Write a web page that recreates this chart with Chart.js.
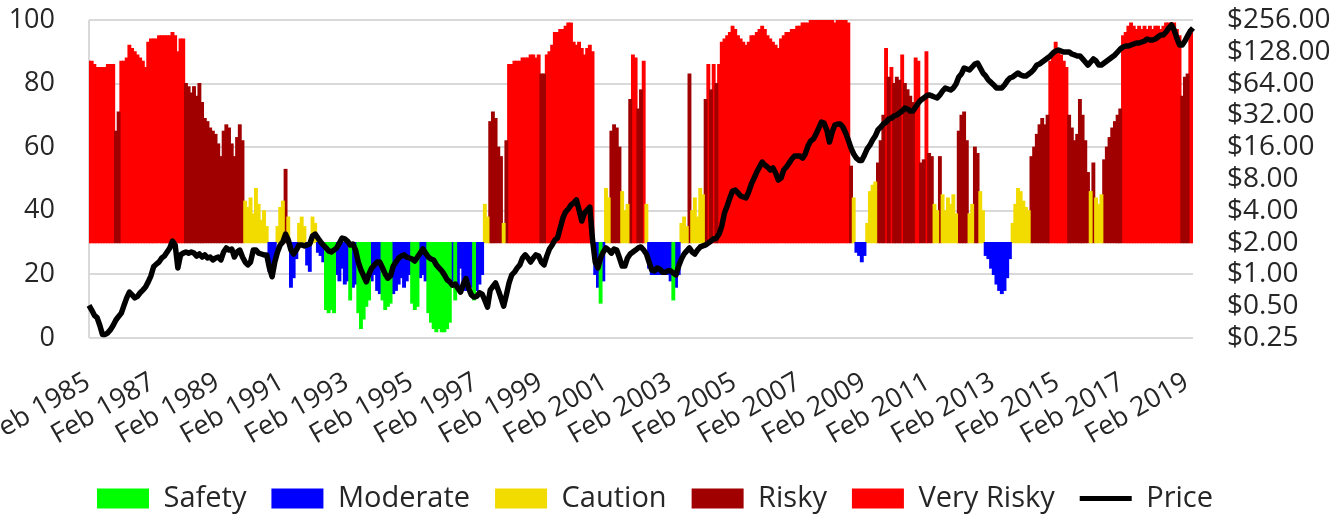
<!DOCTYPE html>
<html>
<head>
<meta charset="utf-8">
<script src="https://cdn.jsdelivr.net/npm/chart.js@4.4.1/dist/chart.umd.min.js"></script>
<style>
  html, body { margin: 0; padding: 0; background: #fff; }
  #wrap { width: 1334px; height: 519px; position: relative; }
</style>
</head>
<body>
<div id="wrap"><canvas id="chart"></canvas></div>
<script>
// monthly readings, Feb 1985 .. Apr 2019 (one row per year, Feb..Jan)
const startYear = 1985;
const startMonth = 1; // Feb

// risk indicator (0-100), bars hang from the 30 line
const riskIndex = [
  87,87,86,85,85,85,85,86,86,86,65,71,
  87,87,88,92,91,90,89,88,87,85,93,94,
  94,94,95,95,95,95,95,96,95,90,94,94,
  80,79,77,79,76,80,74,69,68,66,65,64,
  61,57,65,67,66,61,57,63,67,62,43,41,
  44,39,47,42,37,40,35,21,19,23,35,41,
  43,53,38,16,19,25,36,38,35,23,21,38,
  36,27,26,24,9,8,9,8,20,18,22,17,
  18,12,16,17,8,3,6,10,12,18,20,15,
  14,12,9,10,11,14,15,17,19,16,18,20,
  11,9,10,19,20,18,8,5,3,2,3,2,
  2,3,5,18,12,16,22,17,15,18,16,12,
  15,17,20,42,38,68,71,69,60,57,36,62,
  86,86,87,87,87,88,88,88,89,89,88,89,
  83,83,89,90,92,96,96,97,97,98,99,99,
  93,92,93,91,89,91,92,90,20,16,11,18,
  47,44,65,67,66,60,46,40,42,75,89,88,
  72,78,87,42,22,20,20,20,20,21,20,20,
  18,12,16,20,36,38,35,83,40,44,38,47,
  45,75,86,78,86,80,86,93,94,95,96,98,
  97,95,94,93,92,93,95,95,96,97,98,97,
  95,94,93,92,91,94,95,96,96,97,97,98,
  98,99,99,99,100,100,100,100,100,100,100,100,
  100,99,100,100,100,100,99,54,44,27,26,24,
  26,36,46,48,49,55,62,70,91,82,85,80,
  82,81,89,80,78,76,74,88,87,55,56,90,
  58,57,42,40,57,45,40,44,42,45,39,65,
  70,71,62,39,42,60,58,46,40,26,25,22,
  20,17,15,14,15,19,25,36,42,47,46,43,
  41,40,57,60,64,67,69,67,70,87,89,93,
  90,89,87,85,70,66,62,64,75,70,62,52,
  46,55,44,42,45,56,60,63,66,68,70,72,
  95,96,98,99,98,97,98,97,98,97,98,97,
  98,98,97,98,99,99,99,99,97,95,76,82,
  83,97,97
];

// price, right log axis
const price = [
  0.51,0.46,0.41,0.39,0.33,0.27,0.27,0.28,0.30,0.33,0.37,0.40,
  0.43,0.51,0.60,0.68,0.64,0.60,0.62,0.67,0.71,0.76,0.85,0.97,
  1.18,1.25,1.31,1.43,1.49,1.63,1.78,2.07,1.90,1.15,1.53,1.59,
  1.63,1.59,1.63,1.59,1.49,1.56,1.46,1.53,1.43,1.46,1.37,1.43,
  1.46,1.37,1.63,1.78,1.70,1.74,1.46,1.63,1.70,1.46,1.31,1.23,
  1.31,1.70,1.70,1.59,1.56,1.53,1.53,1.15,0.95,1.31,1.63,1.90,
  2.03,2.41,2.12,1.70,1.56,1.70,1.90,1.90,1.86,1.90,1.94,2.31,
  2.41,2.21,2.03,1.90,1.78,1.67,1.63,1.70,1.78,1.98,2.21,2.17,
  2.07,1.90,1.94,1.70,1.31,1.10,0.97,0.85,1.01,1.15,1.23,1.31,
  1.31,1.15,1.01,0.92,0.97,1.20,1.31,1.43,1.49,1.53,1.46,1.43,
  1.40,1.34,1.46,1.59,1.74,1.59,1.46,1.40,1.37,1.23,1.15,1.08,
  0.99,0.89,0.85,0.79,0.81,0.74,0.68,0.81,0.91,0.74,0.64,0.61,
  0.62,0.67,0.65,0.57,0.49,0.71,0.77,0.83,0.71,0.60,0.50,0.64,
  0.83,0.99,1.05,1.15,1.23,1.43,1.53,1.43,1.31,1.43,1.53,1.49,
  1.31,1.23,1.49,1.74,1.90,2.12,2.21,2.75,3.42,3.90,4.16,4.54,
  4.74,5.07,4.07,3.20,3.81,4.07,4.34,2.12,1.31,1.15,1.43,1.63,
  1.78,1.70,1.59,1.74,1.70,1.43,1.20,1.20,1.43,1.56,1.63,1.70,
  1.78,1.82,1.70,1.56,1.31,1.10,1.08,1.15,1.12,1.05,1.05,1.08,
  1.08,1.03,0.99,1.20,1.40,1.56,1.67,1.78,1.63,1.56,1.70,1.82,
  1.86,1.90,1.98,2.07,2.17,2.21,2.41,2.87,3.81,4.43,5.29,6.16,
  6.29,5.90,5.52,5.40,5.29,6.03,7.18,8.17,9.31,10.39,11.58,10.85,
  10.39,9.73,10.17,9.11,7.83,8.17,9.73,10.39,11.31,12.36,13.2,13.2,
  13.2,12.6,13.8,16.4,18.3,19.1,21.3,24.3,27.6,27.0,23.3,17.9,
  22.3,25.9,26.5,26.5,24.8,21.8,18.7,15.7,13.8,12.6,12.0,12.0,
  13.5,15.4,16.7,18.7,20.4,23.3,24.8,26.5,27.6,29.5,30.1,31.6,
  32.3,33.7,35.2,37.6,36.8,35.2,35.2,38.4,42.0,44.8,46.8,48.9,
  50.0,48.9,47.8,46.8,50.0,54.5,58.2,56.9,55.7,58.2,63.4,73.9,
  79.0,89.9,87.9,86.0,91.9,98.1,100.3,89.9,80.6,75.6,69.2,65.7,
  62.1,58.2,58.2,58.2,62.1,67.8,72.3,73.9,77.2,80.7,77.2,75.6,
  75.6,79.0,82.4,87.9,95.9,98.1,102.4,107.0,111.9,116.9,124.7,130.3,
  133.2,130.3,127.4,127.4,127.4,122.1,119.5,116.9,116.9,109.5,102.4,95.9,
  102.4,109.5,104.7,95.9,95.9,100.2,104.7,109.5,114.4,119.5,127.4,136.1,
  142.1,145.2,145.2,148.4,151.7,155.0,155.0,158.4,161.9,169.1,165.5,165.5,
  169.1,176.8,184.6,184.6,197.1,215.0,229.5,205.8,172.9,148.4,148.4,161.9,
  181,201.4,215
];

const priceTicks = [0.25, 0.5, 1, 2, 4, 8, 16, 32, 64, 128, 256];

// zones: upper bound of each band
const zones = [
  { label: 'Safety',     upTo: 13,  color: '#00ff00' },
  { label: 'Moderate',   upTo: 30,  color: '#0000ff' },
  { label: 'Caution',    upTo: 50,  color: '#f2dc00' },
  { label: 'Risky',      upTo: 84,  color: '#a00000' },
  { label: 'Very Risky', upTo: 101, color: '#ff0000' }
];
const baseLine = 30;

const monthNames = ['Jan','Feb','Mar','Apr','May','Jun','Jul','Aug','Sep','Oct','Nov','Dec'];
const months = riskIndex.map((_, i) => {
  const m = startMonth + i;
  return monthNames[m % 12] + ' ' + (startYear + Math.floor(m / 12));
});

function zoneOf(v) {
  return zones.find(z => v < z.upTo).label;
}

const gridColor = '#d9d9d9';
const textColor = '#262626';
Chart.defaults.font.family = "'Open Sans', sans-serif";
Chart.defaults.color = textColor;

const barSets = zones.map(z => ({
  type: 'bar',
  label: z.label,
  data: riskIndex.map(v => (zoneOf(v) === z.label ? [baseLine, v] : null)),
  backgroundColor: z.color,
  borderWidth: 0,
  grouped: false,
  barPercentage: 1,
  categoryPercentage: 1,
  inflateAmount: 0.6,
  pointStyle: 'rect',
  yAxisID: 'y',
  order: 1
}));

const priceSet = {
  type: 'line',
  label: 'Price',
  data: price,
  yAxisID: 'y2',
  borderColor: '#000',
  backgroundColor: '#000',
  borderWidth: 5.5,
  borderJoinStyle: 'round',
  pointRadius: 0,
  pointStyle: 'line',
  pointBorderWidth: 5,
  pointBorderColor: '#000',
  tension: 0,
  order: 0
};

// small nudge so the legend sits where the original one does
const legendNudge = {
  id: 'legendNudge',
  afterLayout(chart) {
    const l = chart.legend;
    l.left -= 12; l.right -= 12;
    l.top += 4; l.bottom += 4;
  }
};

// y axes: keep the plot top/bottom fixed (no extra label padding)
const noVPad = s => { s.paddingTop = 0; s.paddingBottom = 0; };

new Chart(document.getElementById('chart'), {
  type: 'bar',
  data: { labels: months, datasets: [...barSets, priceSet] },
  plugins: [legendNudge],
  options: {
    responsive: true,
    maintainAspectRatio: false,
    animation: false,
    layout: { padding: { top: 20, left: 0, right: 0, bottom: 0 } },
    plugins: {
      tooltip: { enabled: false },
      legend: {
        position: 'bottom',
        labels: {
          usePointStyle: true,
          pointStyleWidth: 52,
          boxHeight: 20,
          padding: 25,
          font: { size: 29 },
          color: textColor,
          sort: (a, b) => a.datasetIndex - b.datasetIndex
        }
      }
    },
    scales: {
      x: {
        type: 'category',
        offset: false,
        grid: {
          offset: false,
          drawTicks: false,
          lineWidth: 2,
          color: ctx => (ctx.index % 24 === 0 ? gridColor : 'rgba(0,0,0,0)')
        },
        border: { display: false },
        ticks: {
          autoSkip: false,
          minRotation: 30,
          maxRotation: 30,
          padding: 28,
          labelOffset: -1,
          font: { size: 27 },
          color: textColor,
          callback: (v, i) => (i % 24 === 0 ? months[i] : null)
        },
        afterFit: s => { s.height = 117; s.paddingLeft = 0; s.paddingRight = 0; }
      },
      y: {
        position: 'left',
        min: 0,
        max: 100,
        grid: { color: gridColor, lineWidth: 2, drawTicks: false },
        border: { display: false },
        ticks: {
          stepSize: 10,
          padding: 34,
          font: { size: 27 },
          color: textColor,
          callback: v => (v % 20 === 0 ? v : '')
        },
        afterFit: s => { s.width = 89; noVPad(s); }
      },
      y2: {
        type: 'logarithmic',
        position: 'right',
        min: 0.25,
        max: 256,
        grid: { display: false, drawTicks: false },
        border: { display: false },
        ticks: {
          autoSkip: false,
          padding: 34,
          font: { size: 28 },
          color: textColor,
          callback: v => '$' + Number(v).toFixed(2)
        },
        afterBuildTicks: s => { s.ticks = priceTicks.map(v => ({ value: v })); },
        afterFit: s => { s.width = 141; noVPad(s); }
      }
    }
  }
});
</script>
</body>
</html>
